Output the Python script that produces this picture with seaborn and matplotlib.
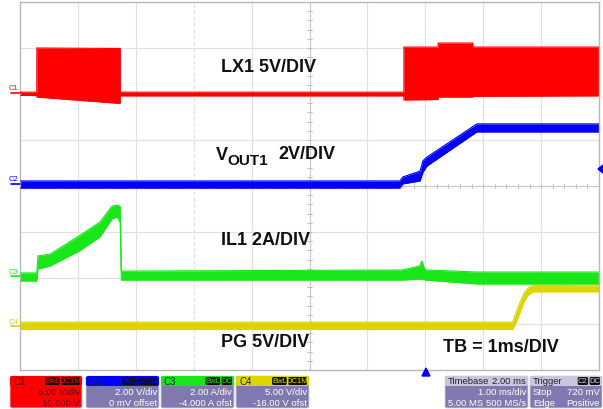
import numpy as np
import pandas as pd
import seaborn as sns
import matplotlib
matplotlib.use("Agg")
import matplotlib.pyplot as plt
from matplotlib.patches import FancyBboxPatch, Polygon

W, H = 603, 410

# ---- channel data: time (ms) and band envelope (low / high) in channel units ----
lx1_t  = [0.00, 0.29, 0.29, 1.68, 1.73, 1.73, 6.63, 6.63, 7.22, 7.22, 7.82, 7.82, 10.0]
lx1_lo = [-0.15, -0.15, -0.33, -1.00, -1.00, -0.20, -0.20, -0.65, -0.60, -0.33, -0.33, -0.25, -0.20]
lx1_hi = [0.20, 0.20, 5.00, 4.95, 4.95, 0.20, 0.20, 5.10, 5.10, 5.54, 5.54, 5.10, 5.10]

vout_t  = [0.00, 6.56, 6.61, 6.91, 6.96, 7.03, 7.89, 10.0]
vout_lo = [-0.09, -0.09, 0.09, 0.22, 0.60, 0.87, 2.35, 2.35]
vout_hi = [0.22, 0.22, 0.39, 0.65, 1.10, 1.26, 2.70, 2.70]

il1_t  = [0.00, 0.29, 0.31, 0.52, 1.02, 1.38, 1.59, 1.69, 1.73, 1.75, 6.60, 6.90, 6.94, 6.97, 7.00, 7.90, 10.0]
il1_lo = [-0.13, -0.13, 0.39, 0.52, 1.17, 1.78, 2.57, 2.65, 2.40, -0.09, -0.09, -0.05, -0.05, -0.05, -0.09, -0.26, -0.26]
il1_hi = [0.22, 0.22, 0.96, 1.04, 1.83, 2.43, 3.13, 3.17, 3.10, 0.30, 0.35, 0.52, 0.74, 0.52, 0.35, 0.26, 0.26]

pg_t  = [0.00, 8.51, 8.57, 8.64, 8.70, 8.77, 8.86, 10.0]
pg_lo = [-0.40, -0.40, 0.40, 1.50, 2.50, 3.30, 3.70, 3.70]
pg_hi = [0.40, 0.40, 1.50, 2.60, 3.50, 4.10, 4.40, 4.35]

# scale (units/div) and ground position (div) of each channel
channels = [
    ("C1", lx1_t, lx1_lo, lx1_hi, 5.0, 2.00, "#ff0000"),
    ("C2", vout_t, vout_lo, vout_hi, 2.0, 0.00, "#0000ff"),
    ("C3", il1_t, il1_lo, il1_hi, 2.0, -2.00, "#19e619"),
    ("C4", pg_t, pg_lo, pg_hi, 5.0, -3.04, "#ddd400"),
]

rows = []
for name, t, lo, hi, sc, pos, col in channels:
    for edge, vals in (("lo", lo), ("hi", hi)):
        for i, (ti, v) in enumerate(zip(t, vals)):
            rows.append(dict(ch=name, edge=edge, t=ti, div=v / sc + pos, order=i))
df = pd.DataFrame(rows)

sns.set_theme(style="white")
plt.rcParams["font.family"] = ["Liberation Sans", "DejaVu Sans"]

fig = plt.figure(figsize=(W / 100, H / 100), dpi=100)
fig.patch.set_facecolor("white")

def fx(x):
    return x / W

def fy(y):
    return 1 - y / H

ax_l, ax_r, ax_t, ax_b = 20, 599, 3, 371
ax = fig.add_axes([fx(ax_l), fy(ax_b), (ax_r - ax_l) / W, (ax_b - ax_t) / H])
ax.set_xlim(0, 10)
ax.set_ylim(-4, 4)
ax.set_xticks([])
ax.set_yticks([])
for s in ax.spines.values():
    s.set_color("#b8b8b8")
    s.set_linewidth(1.0)

# graticule
for gx in range(1, 10):
    if gx == 5:
        continue
    ls = (0, (3, 2)) if gx == 3 else "-"
    ax.axvline(gx, color="#e2e2e2", lw=0.9, ls=ls, zorder=0)
for gy in range(-3, 4):
    if gy == 0:
        continue
    ax.axhline(gy, color="#e2e2e2", lw=0.9, zorder=0)
ax.axvline(5, color="#c8c8c8", lw=0.9, zorder=0)
ax.axhline(0, color="#c8c8c8", lw=0.9, zorder=0)
for tk in np.arange(-4, 4.01, 0.2):
    ax.plot([4.96, 5.04], [tk, tk], color="#c0c0c0", lw=0.7, zorder=0)
for tk in np.arange(0, 10.01, 0.2):
    ax.plot([tk, tk], [-0.04, 0.04], color="#c0c0c0", lw=0.7, zorder=0)

# traces
palette = {c[0]: c[6] for c in channels}
for name, t, lo, hi, sc, pos, col in channels:
    sub = df[df.ch == name]
    lo_d = sub[sub.edge == "lo"]["div"].to_numpy()
    hi_d = sub[sub.edge == "hi"]["div"].to_numpy()
    ax.fill_between(t, lo_d, hi_d, color=col, lw=0, zorder=2)
sns.lineplot(data=df, x="t", y="div", hue="ch", units="edge", estimator=None,
             sort=False, palette=palette, lw=0.8, legend=False, ax=ax, zorder=3)
ax.set_xlabel("")
ax.set_ylabel("")

# channel ground markers on the left
for name, y, col in (("C1", 94, "#ff0000"), ("C2", 185, "#0000ff"),
                     ("C3", 277, "#19e619"), ("C4", 327, "#ddd400")):
    fig.text(fx(9), fy(y - 5), name, fontsize=5.5, color=col, ha="left", va="center")
    fig.add_artist(plt.Line2D([fx(11), fx(20)], [fy(y), fy(y)], color=col, lw=1.2))

# trigger markers
fig.add_artist(Polygon([[fx(422), fy(377)], [fx(430), fy(377)], [fx(426), fy(369)]],
                       closed=True, color="#0000ff", transform=fig.transFigure))
fig.add_artist(Polygon([[fx(603), fy(166)], [fx(603), fy(174)], [fx(598), fy(170)]],
                       closed=True, color="#0000ff", transform=fig.transFigure))

# trace annotations
bold = dict(fontsize=13, fontweight="bold", color="#111111", va="center", ha="left")
fig.text(fx(221), fy(68), "LX1 5V/DIV", **bold)
fig.text(fx(216), fy(156), "V", **bold)
fig.text(fx(227), fy(161), "OUT1", fontsize=11, fontweight="bold", color="#111111",
         va="center", ha="left")
fig.text(fx(278), fy(155), "2V/DIV", **bold)
fig.text(fx(221), fy(241), "IL1 2A/DIV", **bold)
fig.text(fx(221), fy(343), "PG 5V/DIV", **bold)
fig.text(fx(443), fy(348), "TB = 1ms/DIV", **bold)

# status bar
BODY = "#8079b0"
def box(x0, x1, head_col, body_col):
    fig.add_artist(FancyBboxPatch((fx(x0), fy(409)), fx(x1 - x0), (409 - 377) / H,
                                  boxstyle="round,pad=0,rounding_size=0.004",
                                  transform=fig.transFigure, fc=body_col,
                                  ec="#d0d0e0", lw=0.6))
    fig.add_artist(FancyBboxPatch((fx(x0), fy(387)), fx(x1 - x0), 10 / H,
                                  boxstyle="round,pad=0,rounding_size=0.004",
                                  transform=fig.transFigure, fc=head_col, lw=0))

def tag(x1, labels, fg):
    x = x1 - 2
    for lab in reversed(labels):
        w = 4.2 * len(lab) + 2
        fig.add_artist(FancyBboxPatch((fx(x - w), fy(386)), fx(w), 8 / H,
                                      boxstyle="round,pad=0,rounding_size=0.003",
                                      transform=fig.transFigure, fc="#111111", lw=0))
        fig.text(fx(x - w / 2), fy(382), lab, fontsize=5.5, color=fg,
                 ha="center", va="center")
        x -= w + 1.5

small = dict(fontsize=6.8, va="center")
ch_boxes = [
    (10, 82, "#ff0000", "#ff0000", "C1", ["BwL", "DC1M"], "#ff0000", "#6a0000",
     "5.00 V/div", "10.000 V"),
    (86, 159, "#0000ff", BODY, "C2", ["BwL", "DC1M"], "#0000ff", "white",
     "2.00 V/div", "0 mV offset"),
    (161, 234, "#19e619", BODY, "C3", ["BwL", "DC"], "#19e619", "white",
     "2.00 A/div", "-4.000 A ofst"),
    (236, 309, "#ddd400", BODY, "C4", ["BwL", "DC1M"], "#ddd400", "white",
     "5.00 V/div", "-16.00 V ofst"),
]
for x0, x1, hc, bc, name, tags, tfg, txtc, r2, r3 in ch_boxes:
    box(x0, x1, hc, bc)
    fig.text(fx(x0 + 3), fy(382), name, fontsize=7, color="#5a0000" if name == "C1" else "#222244",
             ha="left", va="center")
    tag(x1, tags, tfg)
    fig.text(fx(x1 - 2), fy(393), r2, color=txtc, ha="right", **small)
    fig.text(fx(x1 - 2), fy(404), r3, color=txtc, ha="right", **small)

box(445, 528, "#c9c6de", BODY)
fig.text(fx(448), fy(382), "Timebase", color="#222222", ha="left", **small)
fig.text(fx(526), fy(382), "2.00 ms", color="#222222", ha="right", **small)
fig.text(fx(526), fy(393), "1.00 ms/div", color="white", ha="right", **small)
fig.text(fx(448), fy(404), "5.00 MS", color="white", ha="left", **small)
fig.text(fx(526), fy(404), "500 MS/s", color="white", ha="right", **small)

box(530, 602, "#c9c6de", BODY)
fig.text(fx(533), fy(382), "Trigger", color="#222222", ha="left", **small)
tag(602, ["C2", "DC"], "#d0d0d0")
fig.text(fx(533), fy(393), "Stop", color="white", ha="left", **small)
fig.text(fx(600), fy(393), "720 mV", color="white", ha="right", **small)
fig.text(fx(533), fy(404), "Edge", color="white", ha="left", **small)
fig.text(fx(600), fy(404), "Positive", color="white", ha="right", **small)

fig.savefig("out.png", dpi=100, facecolor="white")
